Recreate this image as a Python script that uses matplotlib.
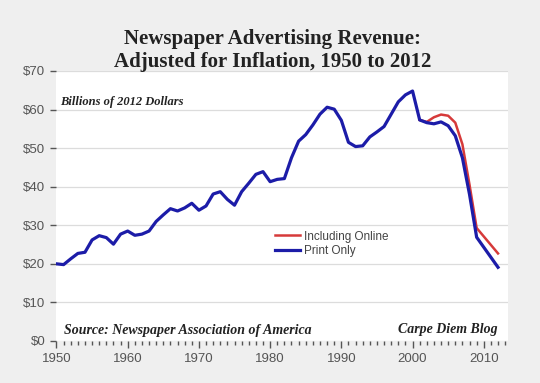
import numpy as np
from matplotlib import pyplot as plt
from matplotlib.ticker import MultipleLocator, FuncFormatter

# Newspaper ad revenue, billions of 2012 dollars
years = np.arange(1950, 2013)
print_only = [20.0, 19.8, 21.3, 22.7, 23.0, 26.2, 27.3, 26.8, 25.1, 27.7,
              28.5, 27.4, 27.7, 28.5, 31.0, 32.7, 34.3, 33.7, 34.5, 35.7,
              33.9, 35.0, 38.1, 38.7, 36.7, 35.2, 38.7, 40.9, 43.2, 43.9,
              41.3, 41.9, 42.1, 47.5, 51.8, 53.5, 56.0, 58.8, 60.6, 60.1,
              57.2, 51.5, 50.4, 50.6, 52.9, 54.2, 55.6, 58.8, 62.0, 63.8,
              64.8, 57.3, 56.6, 56.3, 56.8, 55.8, 53.2, 47.5, 38.0, 26.9,
              24.3, 21.7, 19.1]
online_years = np.arange(2001, 2013)
incl_online = [57.3, 56.8, 58.0, 58.7, 58.4, 56.6, 51.0, 40.5, 29.3,
               27.1, 24.9, 22.7]

yticks = np.arange(0, 71, 10)
xticks = np.arange(1950, 2011, 10)

fig = plt.figure(figsize=(5.4, 3.83), dpi=100, facecolor='#efefef')
ax = fig.add_axes([0.1046, 0.1097, 0.8361, 0.7050])
ax.set_facecolor('white')

ax.plot(online_years, incl_online, color='#d63a3a', lw=1.8, label='Including Online')
ax.plot(years, print_only, color='#1c1ca8', lw=2.3, label='Print Only')

ax.set_xlim(1950, 2013.4)
ax.set_ylim(0, 70)
ax.set_yticks(yticks)
ax.set_xticks(xticks)
ax.xaxis.set_minor_locator(MultipleLocator(1))
ax.yaxis.set_major_formatter(FuncFormatter(lambda v, p: '$%d' % v))
ax.grid(axis='y', color='#dcdcdc', lw=0.9)
for s in ax.spines.values():
    s.set_visible(False)
ax.tick_params(axis='both', which='major', color='#555555', labelcolor='#555555',
               labelsize=9.5, length=4.5, width=1.0)
ax.tick_params(axis='x', which='major', length=5, width=1.0, color='#555555')
ax.tick_params(axis='x', which='minor', length=3, width=1.0, color='#555555')
for lab in ax.get_xticklabels() + ax.get_yticklabels():
    lab.set_family('Liberation Sans')

leg = ax.legend(loc='center left', bbox_to_anchor=(0.484, 0.36), frameon=False,
                handlelength=2.1, handletextpad=0.35,
                labelspacing=0.2, borderpad=0, borderaxespad=0,
                prop={'family': 'Liberation Sans', 'size': 8.5})
for t in leg.get_texts():
    t.set_color('#444444')

serif = 'Liberation Serif'
fig.text(0.505, 0.869, 'Newspaper Advertising Revenue:\nAdjusted for Inflation, 1950 to 2012',
         ha='center', va='center', family=serif, weight='bold', size=15,
         color='#222222', linespacing=1.2)
ax.text(0.008, 0.886, 'Billions of 2012 Dollars', transform=ax.transAxes,
        family=serif, weight='bold', style='italic', size=9, color='#222222',
        va='center')
ax.text(0.016, 0.037, 'Source: Newspaper Association of America', transform=ax.transAxes,
        family=serif, weight='bold', style='italic', size=10, color='#222222',
        va='center')
ax.text(0.976, 0.042, 'Carpe Diem Blog', transform=ax.transAxes,
        family=serif, weight='bold', style='italic', size=10, color='#222222',
        va='center', ha='right')

plt.savefig('out.png', dpi=100, facecolor=fig.get_facecolor())
